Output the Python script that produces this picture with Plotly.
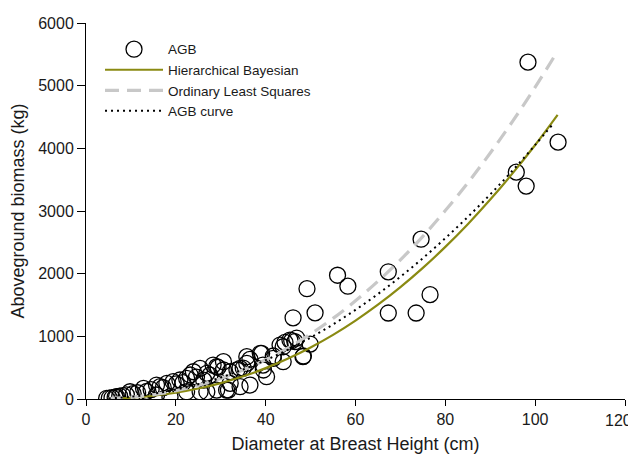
import plotly.graph_objects as go

# Observed data: DBH (cm) and aboveground biomass (kg)
dbh = [4.6, 5.2, 5.8, 6.5, 6.8, 7.5, 8.2, 9.0, 9.8, 10.5,
       11.5, 12.8, 13.5, 14.5, 15.7, 15.7, 16.5, 17.2, 18.0, 18.7,
       19.4, 20.1, 20.9, 21.6, 22.4, 22.4, 23.2, 23.9, 24.6, 25.4,
       25.4, 26.2, 26.9, 26.9, 27.6, 28.3, 29.1, 29.1, 29.4, 30.6,
       30.6, 31.3, 31.7, 32.1, 32.1, 33.6, 34.3, 34.3, 35.0, 35.8,
       35.8, 36.5, 36.5, 38.8, 39.1, 39.4, 39.5, 40.2, 41.7, 41.7,
       43.2, 43.9, 43.9, 44.3, 45.4, 45.8, 46.1, 46.5, 46.9, 48.3,
       48.4, 49.2, 49.9, 51.0, 56.0, 58.3, 67.3, 67.3, 73.5, 74.6,
       76.6, 95.8, 98.0, 98.4, 105.1]
agb = [11, 15, 20, 30, 37, 45, 55, 65, 116, 85,
       100, 170, 120, 150, 223, 64, 196, 180, 250, 37,
       276, 240, 303, 260, 330, 116, 383, 435, 350, 489,
       116, 300, 410, 116, 380, 542, 515, 143, 505, 595,
       463, 143, 143, 435, 250, 463, 489, 196, 494, 675,
       568, 633, 223, 729, 728, 542, 463, 356, 686, 649,
       861, 834, 595, 904, 941, 930, 1296, 914, 973, 675,
       686, 1760, 877, 1375, 1975, 1800, 1372, 2030, 1372, 2550,
       1665, 3620, 3397, 5375, 4099]

# Fitted curves
curve_dbh = [5, 10, 15, 20, 25, 30, 35, 40, 45, 50, 55, 60, 65, 70, 75, 80, 85, 90, 95, 100, 105]
hb_agb = [4, 20, 52, 100, 167, 254, 362, 493, 646, 823, 1024, 1252, 1505, 1785, 2092, 2427, 2790, 3182, 3604, 4053, 4534]
ols_agb = [6, 27, 68, 131, 217, 328, 464, 627, 817, 1037, 1287, 1567, 1879, 2220, 2596, 3007, 3449, 3925, 4434, 4975, 5553]
curve2_dbh = [5, 10, 15, 20, 25, 30, 35, 40, 45, 50, 55, 60, 65, 70, 75, 80, 85, 90, 95, 100, 104]
agbcurve_agb = [9, 36, 83, 150, 236, 344, 471, 620, 789, 980, 1190, 1423, 1675, 1951, 2247, 2566, 2905, 3265, 3648, 4054, 4392]

x_ticks = [0, 20, 40, 60, 80, 100, 120]
x_ticktext = ["0", "20", "40", "60", "80", "100", ""]  # "120" placed as annotation so it stays inside the page
last_x_label = "120"
y_ticks = [0, 1000, 2000, 3000, 4000, 5000, 6000]

FONT = "Liberation Sans, Arial, sans-serif"
TICKCOL = "#1a1a1a"

fig = go.Figure()
fig.add_trace(go.Scatter(
    x=dbh, y=agb, mode="markers", name="AGB",
    marker=dict(symbol="circle-open", size=16, color="black", line=dict(width=1.3, color="black")),
))
fig.add_trace(go.Scatter(
    x=curve_dbh, y=hb_agb, mode="lines", name="Hierarchical Bayesian",
    line=dict(color="#8a8a12", width=2.2, shape="spline"),
))
fig.add_trace(go.Scatter(
    x=curve_dbh, y=ols_agb, mode="lines", name="Ordinary Least Squares",
    line=dict(color="#c8c8c8", width=3.2, dash="14px,8px", shape="spline"),
))
fig.add_trace(go.Scatter(
    x=curve2_dbh, y=agbcurve_agb, mode="lines", name="AGB curve",
    line=dict(color="black", width=2, dash="2px,4px", shape="spline"),
))

fig.add_annotation(
    text=last_x_label, xref="paper", yref="paper", x=1.0 + 9 / 539, y=0,
    xanchor="right", yanchor="top", yshift=-11, showarrow=False,
    font=dict(family=FONT, size=16, color=TICKCOL),
)

fig.update_layout(
    width=628, height=455,
    margin=dict(l=78, r=11, t=15, b=64, autoexpand=False),
    plot_bgcolor="white", paper_bgcolor="white",
    font=dict(family=FONT, size=16, color=TICKCOL),
    showlegend=True,
    legend=dict(x=0.026, y=0.971, xanchor="left", yanchor="top",
                bgcolor="rgba(0,0,0,0)", font=dict(size=13.5, family=FONT),
                itemwidth=58, tracegroupgap=0),
    xaxis=dict(range=[0, 120.0001], tickvals=x_ticks, ticktext=x_ticktext,
               showgrid=False, zeroline=False,
               showline=True, linecolor="black", linewidth=1, automargin=False,
               ticks="outside", ticklen=6, tickcolor="black",
               title=dict(text="Diameter at Breast Height (cm)", font=dict(size=18), standoff=10)),
    yaxis=dict(range=[0, 6000.001], tickvals=y_ticks, showgrid=False, zeroline=False,
               showline=True, linecolor="black", linewidth=1, automargin=False,
               ticks="outside", ticklen=8, tickcolor="black",
               title=dict(text="Aboveground biomass (kg)", font=dict(size=18), standoff=12)),
)

fig.write_html("out.html")
